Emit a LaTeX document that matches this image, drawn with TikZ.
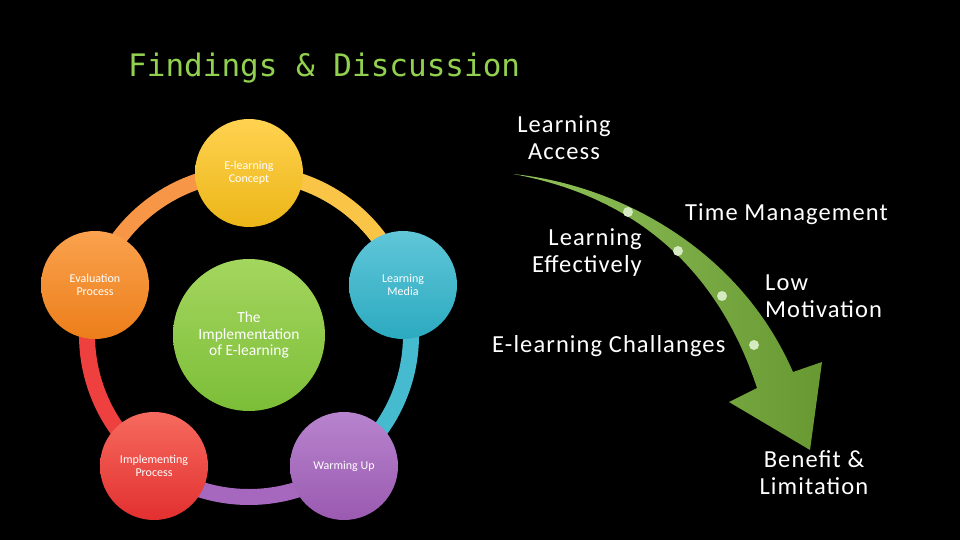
\documentclass[tikz,border=0pt]{standalone}
\usepackage{fontspec}
\setmainfont{Carlito}
\newfontfamily\titlefont{DejaVu Sans Mono}
\newfontfamily\lblfont[LetterSpace=4.5]{Carlito}
\definecolor{titlegreen}{RGB}{146,208,80}
\definecolor{yelT}{RGB}{255,210,80}\definecolor{yelB}{RGB}{236,182,24}
\definecolor{orT}{RGB}{250,162,78}\definecolor{orB}{RGB}{236,126,26}
\definecolor{teT}{RGB}{96,198,216}\definecolor{teB}{RGB}{44,170,192}
\definecolor{puT}{RGB}{184,132,206}\definecolor{puB}{RGB}{154,90,176}
\definecolor{reT}{RGB}{246,106,94}\definecolor{reB}{RGB}{226,48,48}
\definecolor{grT}{RGB}{164,214,94}\definecolor{grB}{RGB}{124,190,56}
\definecolor{yelArc}{RGB}{250,196,70}
\definecolor{orArc}{RGB}{246,150,70}
\definecolor{teArc}{RGB}{70,186,206}
\definecolor{puArc}{RGB}{166,104,190}
\definecolor{reArc}{RGB}{238,64,62}
\definecolor{arrA}{RGB}{146,194,90}
\definecolor{arrB}{RGB}{104,152,50}
\definecolor{dotc}{RGB}{212,234,192}
\begin{document}
\begin{tikzpicture}[x=1pt,y=-1pt,
  circ/.style={circle, minimum size=108pt, inner sep=0pt, text=white, align=center,
    font=\fontsize{12}{13}\selectfont},
  ring/.style={line width=16pt},
  lbl/.style={text=white, inner sep=0pt, font=\lblfont\fontsize{24.5}{27}\selectfont},
  dotn/.style={circle, fill=dotc, inner sep=0pt, minimum size=10pt}]
\fill[black] (0,0) rectangle (960,540);
\useasboundingbox (0,0) rectangle (960,540);
% title
\node[anchor=base west, inner sep=0pt, text=titlegreen, font=\titlefont\fontsize{31}{31}\selectfont] (title) at (128,77) {Findings \& Discussion};
% ring
\coordinate (ctr) at (249,335);
\draw[ring, yelArc] (ctr) ++(-90:162) arc[start angle=-90, end angle=-18, radius=162];
\draw[ring, teArc] (ctr) ++(-18:162) arc[start angle=-18, end angle=54, radius=162];
\draw[ring, puArc] (ctr) ++(54:162) arc[start angle=54, end angle=126, radius=162];
\draw[ring, reArc] (ctr) ++(126:162) arc[start angle=126, end angle=198, radius=162];
\draw[ring, orArc] (ctr) ++(198:162) arc[start angle=198, end angle=270, radius=162];
% circles
\node[circ, top color=grT, bottom color=grB, minimum size=152pt, font=\fontsize{15.5}{16.5}\selectfont] (impl) at (249,335) {The\\Implementation\\of E-learning};
\node[circ, top color=yelT, bottom color=yelB] (concept) at (249,173) {E-learning\\Concept};
\node[circ, top color=teT, bottom color=teB] (media) at (403,285) {Learning\\Media};
\node[circ, top color=puT, bottom color=puB] (warm) at (344,466) {Warming Up};
\node[circ, top color=reT, bottom color=reB] (implp) at (154,466) {Implementing\\Process};
\node[circ, top color=orT, bottom color=orB] (eval) at (95,285) {Evaluation\\Process};
% curved arrow
\shade[left color=arrA, right color=arrB]
  (513,174) .. controls (620,185) and (740,250) .. (793,372)
  -- (822,362) -- (810,450) -- (729,402) -- (757,388)
  .. controls (725,290) and (655,200) .. (513,174) -- cycle;
\node[dotn] (d1) at (628,212) {};
\node[dotn] (d2) at (678,251) {};
\node[dotn] (d3) at (722,296) {};
\node[dotn] (d4) at (754,345) {};
% right labels (base anchor = last line baseline)
\node[lbl, anchor=base, align=center] (access) at (564,160) {Learning\\Access};
\node[lbl, anchor=base west] (time) at (685,220) {Time Management};
\node[lbl, anchor=base east, align=right] (effect) at (642,272) {Learning\\Effectively};
\node[lbl, anchor=base west, align=left] (motiv) at (765,317) {Low\\Motivation};
\node[lbl, anchor=base west] (chall) at (492,352) {E-learning Challanges};
\node[lbl, anchor=base, align=center] (benef) at (814,494) {Benefit \&\\Limitation};
\end{tikzpicture}
\end{document}
